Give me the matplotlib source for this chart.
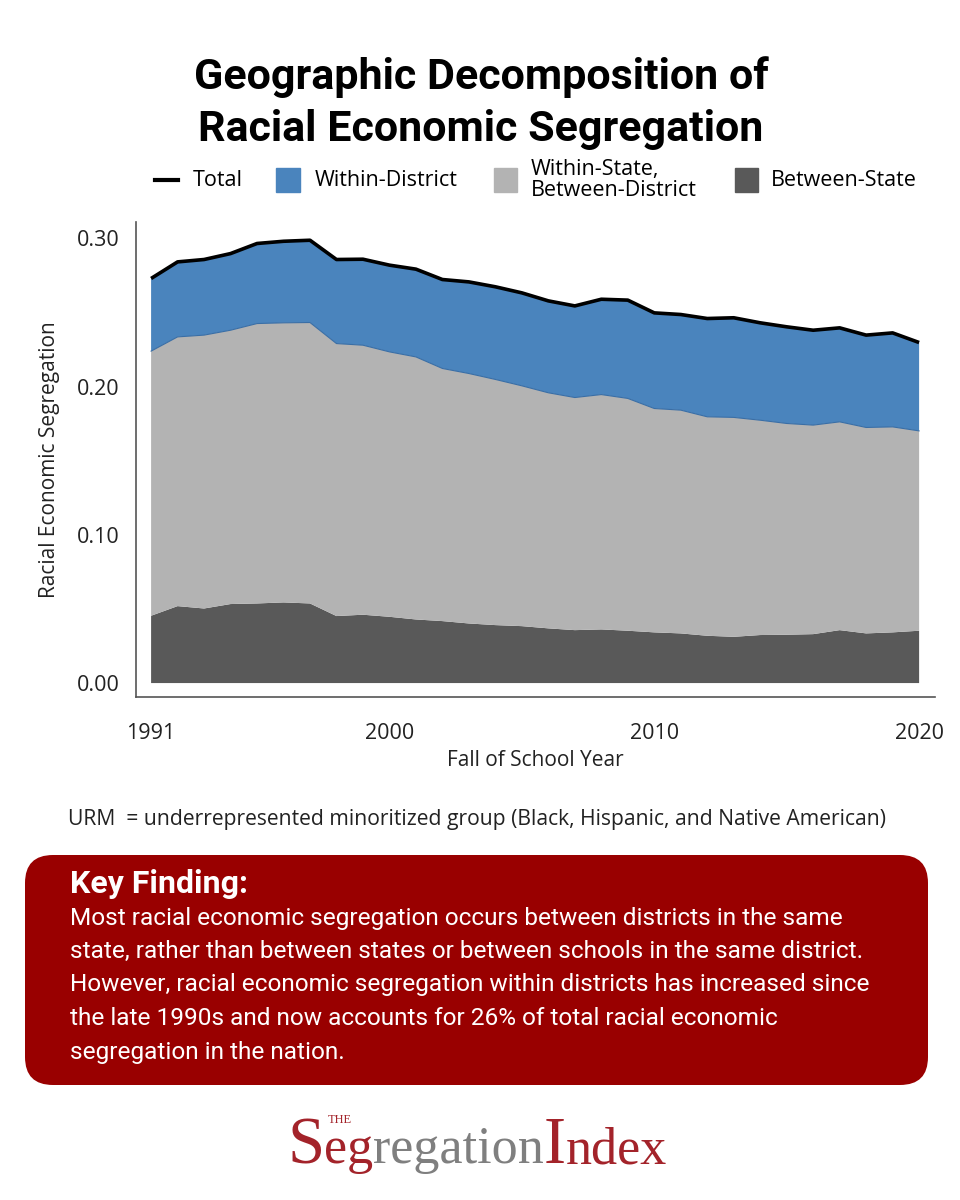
import matplotlib
matplotlib.use('Agg')
import matplotlib.pyplot as plt
import numpy as np
from matplotlib.patches import FancyBboxPatch, Rectangle
from matplotlib.lines import Line2D

plt.rcParams['font.family'] = 'Open Sans'

# values
years = list(range(1991, 2021))
between_state = [0.0454, 0.0519, 0.0503, 0.0533, 0.0537, 0.0544, 0.0537, 0.0452, 0.0461, 0.0447,
                 0.0429, 0.0418, 0.0402, 0.0391, 0.0384, 0.0369, 0.0357, 0.0362, 0.0353, 0.0342,
                 0.0335, 0.0319, 0.0312, 0.0324, 0.0326, 0.0330, 0.0357, 0.0335, 0.0342, 0.0353]
within_state = [0.1785, 0.1816, 0.1844, 0.1847, 0.1888, 0.1886, 0.1895, 0.1838, 0.1818, 0.1787,
                0.1771, 0.1704, 0.1686, 0.1657, 0.1621, 0.1589, 0.1569, 0.1584, 0.1567, 0.1510,
                0.1506, 0.1477, 0.1480, 0.1449, 0.1425, 0.1410, 0.1405, 0.1389, 0.1386, 0.1348]
within_district = [0.0490, 0.0506, 0.0510, 0.0517, 0.0540, 0.0550, 0.0555, 0.0567, 0.0580, 0.0585,
                   0.0592, 0.0600, 0.0618, 0.0625, 0.0627, 0.0620, 0.0618, 0.0643, 0.0663, 0.0645,
                   0.0645, 0.0663, 0.0672, 0.0657, 0.0652, 0.0640, 0.0634, 0.0623, 0.0634, 0.0596]
xticks = [1991, 2000, 2010, 2020]
yticks = [0.0, 0.1, 0.2, 0.3]

c_blue = '#4A84BD'
c_light = '#B3B3B3'
c_dark = '#595959'
c_red = '#990000'
c_logo = '#A3232A'

bs = np.array(between_state)
ws = np.array(within_state)
wd = np.array(within_district)
total = bs + ws + wd

fig = plt.figure(figsize=(9.6, 12), dpi=100)
ax = fig.add_axes([136/960, 1 - 697/1200, (935-136)/960, (697-222)/1200])

ax.stackplot(years, bs, ws, wd, colors=[c_dark, c_light, c_blue], linewidth=0)
ax.plot(years, bs + ws, color='#3A6EA5', lw=0.8)
ax.plot(years, total, color='black', lw=2.6, solid_capstyle='butt')

ax.set_xlim(1990.43, 2020.6)
ax.set_ylim(-0.0094, 0.311)
ax.set_xticks(xticks)
ax.set_yticks(yticks)
ax.set_yticklabels([f'{v:.2f}' for v in yticks])
ax.tick_params(axis='both', length=0, labelsize=15.5, colors='#222222')
ax.tick_params(axis='x', pad=19)
ax.tick_params(axis='y', pad=12)
for s in ['top', 'right']:
    ax.spines[s].set_visible(False)
for s in ['left', 'bottom']:
    ax.spines[s].set_color('#555555')
    ax.spines[s].set_linewidth(1.2)
ax.set_xlabel('Fall of School Year', fontsize=15, color='#222222', labelpad=4)
ax.set_ylabel('Racial Economic Segregation', fontsize=15, color='#222222', labelpad=12)

# title
fig.text(481/960, 1 - 77/1200, 'Geographic Decomposition of', ha='center', va='center',
         fontsize=31, fontweight='bold', family='Roboto')
fig.text(481/960, 1 - 129/1200, 'Racial Economic Segregation', ha='center', va='center',
         fontsize=31, fontweight='bold', family='Roboto')

# legend
ly = 1 - 180/1200
fig.add_artist(Line2D([155/960, 178/960], [ly, ly], color='black', lw=3))
fig.text(193/960, ly, 'Total', va='center', fontsize=15.5)
fig.add_artist(Rectangle((276/960, 1 - 192/1200), 24/960, 24/1200, color=c_blue))
fig.text(315/960, ly, 'Within-District', va='center', fontsize=15.5)
fig.add_artist(Rectangle((494/960, 1 - 192/1200), 23/960, 24/1200, color=c_light))
fig.text(531/960, ly, 'Within-State,\nBetween-District', va='center', fontsize=15.5,
         linespacing=1.05)
fig.add_artist(Rectangle((735/960, 1 - 192/1200), 23/960, 24/1200, color=c_dark))
fig.text(771/960, ly, 'Between-State', va='center', fontsize=15.5)

# note
fig.text(68/960, 1 - 820/1200,
         'URM  = underrepresented minoritized group (Black, Hispanic, and Native American)',
         va='center', fontsize=15.2, color='#222222')

# key finding box
box = FancyBboxPatch((0.25, 1.15), 9.03, 2.3, boxstyle='round,pad=0,rounding_size=0.28',
                     transform=fig.dpi_scale_trans, facecolor=c_red, edgecolor='none')
fig.add_artist(box)
fig.text(70/960, 1 - 884/1200, 'Key Finding:', va='center', fontsize=23, fontweight='bold',
         color='white', family='Roboto')
body = ['Most racial economic segregation occurs between districts in the same',
        'state, rather than between states or between schools in the same district.',
        'However, racial economic segregation within districts has increased since',
        'the late 1990s and now accounts for 26% of total racial economic',
        'segregation in the nation.']
for i, line in enumerate(body):
    fig.text(70/960, 1 - (918 + i*33.5)/1200, line, va='center', fontsize=17.6,
             color='white', family='Roboto')

# logo
renderer = fig.canvas.get_renderer()
x = 287/960
base = 1 - 1163/1200
the_x = None
for part, col, size in [('S', c_logo, 48), ('eg', c_logo, 37.5), ('regation', '#7F7F7F', 37.5),
                        ('I', c_logo, 48), ('ndex', c_logo, 37.5)]:
    t = fig.text(x, base, part, va='baseline', fontsize=size, color=col,
                 family='Liberation Serif')
    bb = t.get_window_extent(renderer)
    x = bb.x1 / fig.bbox.width
    if the_x is None:
        the_x = x + 4/960
fig.text(the_x, 1 - 1120/1200, 'THE', va='center', fontsize=9, color=c_logo,
         family='Liberation Serif')

fig.savefig('out.png', dpi=100)
